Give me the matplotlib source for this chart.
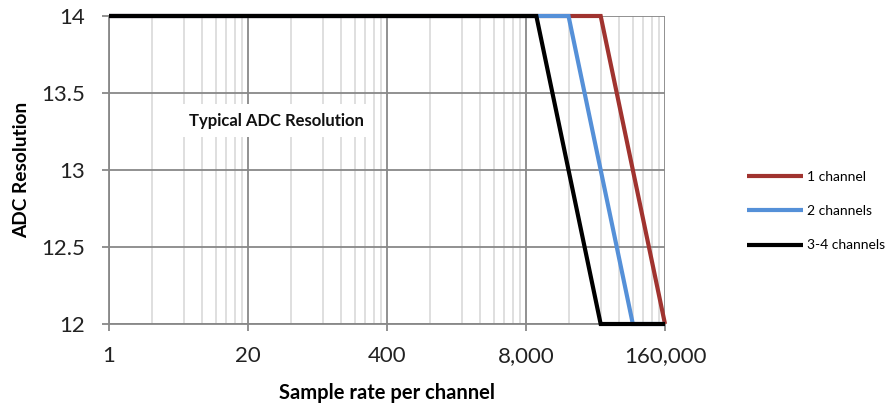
import matplotlib.pyplot as plt
from matplotlib.ticker import LogLocator, FuncFormatter, FixedLocator
import numpy as np

plt.rcParams['font.family'] = ['Lato', 'DejaVu Sans']

# sample rate per channel vs ADC resolution
x_1ch = [1, 40000, 160000]
y_1ch = [14, 14, 12]
x_2ch = [1, 20000, 80000, 160000]
y_2ch = [14, 14, 12, 12]
x_34ch = [1, 10000, 40000, 160000]
y_34ch = [14, 14, 12, 12]

labels = ['1 channel', '2 channels', '3-4 channels']
colors = ['#A0332F', '#5590D8', '#000000']
x_ticks = [1, 20, 400, 8000, 160000]
y_ticks = [12, 12.5, 13, 13.5, 14]

fig = plt.figure(figsize=(8.86, 4.08), dpi=100)
ax = fig.add_axes([109/886, 1-324/408, (665-109)/886, (324-16)/408])

ax.set_xscale('log', base=20)
ax.set_xlim(1, 160000)
ax.set_ylim(12, 14)

series = [(x_1ch, y_1ch), (x_2ch, y_2ch), (x_34ch, y_34ch)]
for (xs, ys), lab, c in zip(series, labels, colors):
    ax.plot(xs, ys, color=c, lw=3.0, label=lab, clip_on=False,
            solid_capstyle='butt', solid_joinstyle='miter', zorder=5)

ax.xaxis.set_major_locator(FixedLocator(x_ticks))
ax.xaxis.set_minor_locator(LogLocator(base=20, subs=[2.5, 5, 7.5, 10, 12.5, 15, 17.5]))
ax.xaxis.set_major_formatter(FuncFormatter(lambda v, p: '{:,.0f}'.format(v)))
ax.xaxis.set_minor_formatter(FuncFormatter(lambda v, p: ''))
ax.set_yticks(y_ticks)
ax.set_yticklabels(['12', '12.5', '13', '13.5', '14'])

ax.grid(which='major', color='#888888', lw=1.3)
ax.grid(which='minor', axis='x', color='#dcdcdc', lw=1.3)
ax.set_axisbelow(True)

for s in ['top', 'right']:
    ax.spines[s].set_visible(False)
for s in ['left', 'bottom']:
    ax.spines[s].set_color('#888888')
    ax.spines[s].set_linewidth(1.3)

ax.tick_params(which='major', direction='out', length=5, width=1.3, color='#888888',
               labelsize=16, labelcolor='#222222')
ax.tick_params(axis='x', which='major', pad=11)
ax.tick_params(axis='y', which='major', pad=12)
ax.tick_params(which='minor', length=0)

ax.set_xlabel('Sample rate per channel', fontsize=14.5, fontweight='bold', labelpad=12)
ax.set_ylabel('ADC Resolution', fontsize=13.8, fontweight='bold', labelpad=8)

ax.text(37, 13.32, 'Typical ADC Resolution', fontsize=12, fontweight='bold',
        ha='center', va='center', color='#111111', zorder=4,
        bbox=dict(facecolor='white', edgecolor='none', pad=6))

fig.legend(loc='upper left', bbox_to_anchor=(747/886, 1-171/408), frameon=False,
           fontsize=10, handlelength=4.0, handletextpad=0.3, labelspacing=1.6,
           borderpad=0, borderaxespad=0)

fig.savefig('out.png', dpi=100)
